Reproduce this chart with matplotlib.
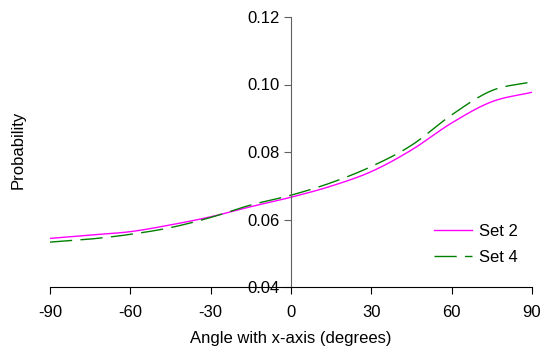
import matplotlib.pyplot as plt
import numpy as np

plt.rcParams["font.family"] = ["Liberation Sans", "DejaVu Sans"]
plt.rcParams["axes.unicode_minus"] = False

angle = [-90, -75, -60, -45, -30, -15, 0, 15, 30, 45, 60, 75, 90]
set2 = [0.0544, 0.0554, 0.0564, 0.0584, 0.0608, 0.0638, 0.0666, 0.0699, 0.0742, 0.0806, 0.0886, 0.0949, 0.0977]
set4 = [0.0533, 0.0542, 0.0556, 0.0576, 0.0606, 0.0643, 0.0672, 0.0709, 0.0757, 0.0820, 0.0910, 0.0982, 0.1008]

xticks = [-90, -60, -30, 0, 30, 60, 90]
yticks = [0.04, 0.06, 0.08, 0.10, 0.12]


def catmull_rom(x, y, n=20):
    # smoothed line through the points, like a spreadsheet "smoothed line"
    x = np.asarray(x, float)
    y = np.asarray(y, float)
    px = np.concatenate([[2 * x[0] - x[1]], x, [2 * x[-1] - x[-2]]])
    py = np.concatenate([[2 * y[0] - y[1]], y, [2 * y[-1] - y[-2]]])
    xs, ys = [], []
    t = np.linspace(0, 1, n, endpoint=False)
    for i in range(1, len(px) - 2):
        for a, arr in ((px, xs), (py, ys)):
            p0, p1, p2, p3 = a[i - 1], a[i], a[i + 1], a[i + 2]
            arr.extend(0.5 * (2 * p1 + (-p0 + p2) * t
                              + (2 * p0 - 5 * p1 + 4 * p2 - p3) * t ** 2
                              + (-p0 + 3 * p1 - 3 * p2 + p3) * t ** 3))
    xs.append(x[-1])
    ys.append(y[-1])
    return np.array(xs), np.array(ys)


fig = plt.figure(figsize=(5.42, 3.56), dpi=100)
ax = fig.add_axes([50 / 542, 1 - 287 / 356, 482 / 542, 270 / 356])

x2, y2 = catmull_rom(angle, set2)
x4, y4 = catmull_rom(angle, set4)

ax.plot(x2, y2, color="#FF00FF", lw=1.0, label="Set 2")
ax.plot(x4, y4, color="#008000", lw=1.0, dashes=(16, 6), label="Set 4")

ax.set_xlim(-90, 90)
ax.set_ylim(0.04, 0.12)
ax.set_xticks(xticks)
ax.set_yticks(yticks)
ax.set_yticklabels([f"{v:.2f}" for v in yticks])

ax.spines["left"].set_position(("data", 0))
ax.spines["left"].set_color("#606060")
ax.spines["right"].set_visible(False)
ax.spines["top"].set_visible(False)
ax.spines["bottom"].set_color("black")
ax.tick_params(axis="y", direction="out", length=5, colors="#606060", labelcolor="black", labelsize=12, pad=3)
ax.tick_params(axis="x", direction="out", length=5, labelsize=12, pad=8)

ax.set_xlabel("Angle with x-axis (degrees)", fontsize=12, labelpad=8)
fig.text(18 / 542, 1 - 150 / 356, "Probability", rotation=90, fontsize=12, ha="center", va="center")

ax.legend(loc="upper left", bbox_to_anchor=(0.765, 0.29), frameon=False, fontsize=12,
          handlelength=2.3, handletextpad=0.4, labelspacing=0.65)

fig.savefig("out.png", dpi=100)
